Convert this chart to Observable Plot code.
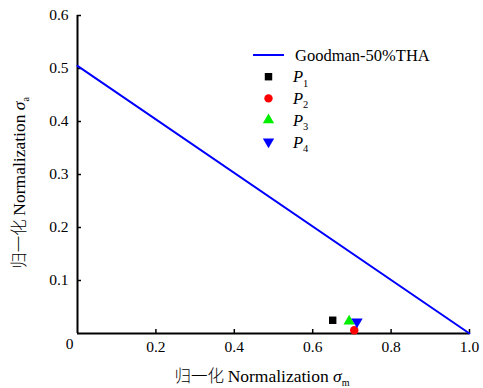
<!DOCTYPE html>
<html>
<head>
<meta charset="utf-8">
<script src="https://cdn.jsdelivr.net/npm/d3@7"></script>
<script src="https://cdn.jsdelivr.net/npm/@observablehq/plot@0.6"></script>
<style>
  html, body { margin: 0; padding: 0; background: #fff; }
  svg { display: block; }
</style>
</head>
<body>
<div id="chart"></div>
<script>
// ---- data ----
const xTicks = [0.2, 0.4, 0.6, 0.8, 1.0];
const xTickLabels = ["0.2", "0.4", "0.6", "0.8", "1.0"];
const yTicks = [0.1, 0.2, 0.3, 0.4, 0.5, 0.6];
const yTickLabels = ["0.1", "0.2", "0.3", "0.4", "0.5", "0.6"];

const goodmanX = [0, 1.0];
const goodmanY = [0.505, 0];
const goodmanName = "Goodman-50%THA";

const pointNames = ["P1", "P2", "P3", "P4"];
const pointSubs = ["1", "2", "3", "4"];
const pointX = [0.651, 0.706, 0.693, 0.713];
const pointY = [0.025, 0.006, 0.023, 0.022];
const pointSymbols = ["square", "circle", "triangle", "triangle"];
const pointRotate = [0, 0, 0, 180];
const pointColors = ["#000000", "#ff0000", "#00ee00", "#0000ff"];

// ---- build ----
const W = 483, H = 388;
const mL = 77, mR = 14, mT = 15, mB = 55;
const plotW = W - mL - mR, plotH = H - mT - mB;
const serif = "Liberation Serif, Times New Roman, serif";
const tickFs = 15.5;

const goodman = goodmanX.map((x, i) => ({x, y: goodmanY[i]}));
const points = pointNames.map((n, i) => ({
  name: n, x: pointX[i], y: pointY[i], symbol: pointSymbols[i],
  rotate: pointRotate[i], color: pointColors[i]
}));

const plot = Plot.plot({
  width: W, height: H,
  marginLeft: mL, marginRight: mR, marginTop: mT, marginBottom: mB,
  style: {fontFamily: serif, fontSize: tickFs + "px", color: "#000", background: "#fff"},
  x: {domain: [0, 1], axis: null},
  y: {domain: [0, 0.6], axis: null},
  marks: [
    Plot.axisX({ticks: xTicks, tickSize: 0, tickPadding: 7, tickFormat: (d, i) => xTickLabels[i], label: null, fontSize: tickFs, fontFamily: serif}),
    Plot.axisY({ticks: yTicks, tickSize: 0, tickPadding: 9, tickFormat: (d, i) => yTickLabels[i], label: null, fontSize: tickFs, fontFamily: serif}),
    // inward ticks
    Plot.tickX(xTicks, {x: d => d, insetTop: plotH - 4, stroke: "#000", strokeWidth: 1.5}),
    Plot.tickY(yTicks, {y: d => d, insetRight: plotW - 4, stroke: "#000", strokeWidth: 1.5}),
    // shared origin label
    Plot.text([0], {x: d => d, y: d => d, text: () => "0", dx: -8, dy: 11, fontSize: tickFs, fontFamily: serif}),
    Plot.ruleX([0], {stroke: "#000", strokeWidth: 2}),
    Plot.ruleY([0], {stroke: "#000", strokeWidth: 2}),
    Plot.line(goodman, {x: "x", y: "y", stroke: "#0000ff", strokeWidth: 2}),
    Plot.dot(points, {x: "x", y: "y", symbol: "symbol", rotate: "rotate", fill: "color", stroke: "none", r: 4.2})
  ]
});

document.getElementById("chart").appendChild(plot);

// ---- legend & axis titles (text with subscripts) ----
const svg = d3.select(plot);
const leg = svg.append("g").attr("font-family", serif).attr("font-size", 16.5).attr("fill", "#000")
  .attr("text-anchor", "start");
const legX = 253, legLineEnd = 284, legTextX = 293, legY0 = 55, legStep = 21.7;
leg.append("line").attr("x1", legX).attr("x2", legLineEnd).attr("y1", legY0).attr("y2", legY0)
  .attr("stroke", "#0000ff").attr("stroke-width", 2);
leg.append("text").attr("x", legTextX + 2).attr("y", legY0).attr("dy", "0.35em").text(goodmanName);
const symMap = {square: d3.symbolSquare, circle: d3.symbolCircle, triangle: d3.symbolTriangle};
points.forEach((p, i) => {
  const cy = legY0 + legStep * (i + 1);
  leg.append("path")
    .attr("d", d3.symbol(symMap[p.symbol], Math.PI * 4.2 * 4.2)())
    .attr("transform", `translate(${(legX + legLineEnd) / 2},${cy}) rotate(${p.rotate})`)
    .attr("fill", p.color);
  const t = leg.append("text").attr("x", legTextX).attr("y", cy).attr("dy", "0.35em");
  t.append("tspan").attr("font-style", "italic").text("P");
  t.append("tspan").attr("font-size", 10.5).attr("dy", "0.4em").text(pointSubs[i]);
});

const cjk = "Noto Sans CJK SC, sans-serif";
function axisTitle(g, sub) {
  g.append("tspan").attr("font-family", cjk).attr("font-weight", 300).attr("font-size", 16.5).text("归一化 ");
  g.append("tspan").text("Normalization ");
  g.append("tspan").attr("font-style", "italic").text("σ");
  g.append("tspan").attr("font-size", 10).attr("dy", "0.35em").text(sub);
}
const xt = svg.append("text").attr("font-family", serif).attr("font-size", 17.5).attr("fill", "#000")
  .attr("text-anchor", "middle").attr("x", 262).attr("y", 376).attr("dy", "0.35em");
axisTitle(xt, "m");
const yt = svg.append("text").attr("font-family", serif).attr("font-size", 17.5).attr("fill", "#000")
  .attr("text-anchor", "middle").attr("transform", "translate(19,183) rotate(-90)").attr("dy", "0.35em");
axisTitle(yt, "a");
</script>
</body>
</html>
